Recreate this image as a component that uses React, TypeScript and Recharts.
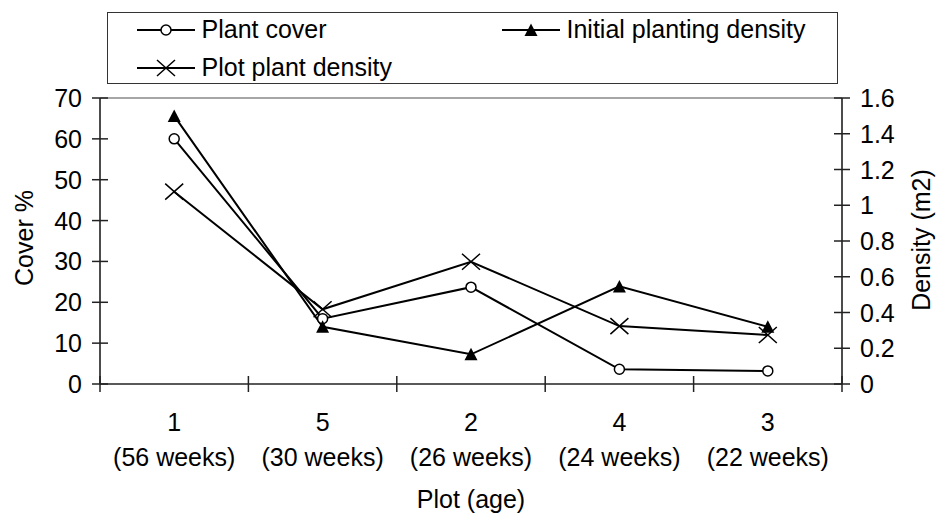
import { LineChart, Line, XAxis, YAxis, Legend, ReferenceLine } from 'recharts';

const FONT = '"Liberation Sans", Arial, sans-serif';

const plots = ['1', '5', '2', '4', '3'];
const ages = ['(56 weeks)', '(30 weeks)', '(26 weeks)', '(24 weeks)', '(22 weeks)'];
const plantCover = [60, 16, 23.7, 3.6, 3.2];
const initialDensity = [1.5, 0.32, 0.166, 0.546, 0.32];
const plotDensity = [1.076, 0.418, 0.684, 0.324, 0.274];
const coverTicks = [0, 10, 20, 30, 40, 50, 60, 70];
const densityTicks = [0, 0.2, 0.4, 0.6, 0.8, 1, 1.2, 1.4, 1.6];

const data = plots.map((p, i) => ({
  plot: p,
  cover: plantCover[i],
  initial: initialDensity[i],
  plotDensity: plotDensity[i],
}));

// half a category band, the x axis tick marks sit between the points
const HALF = 74.2;

const CircleDot = (props: any) => (
  <circle key={props.index} cx={props.cx} cy={props.cy} r={5} fill="#fff" stroke="#000" strokeWidth={1.5} />
);
const TriangleDot = (props: any) => {
  const { cx, cy } = props;
  return <path key={props.index} d={`M${cx},${cy - 6.5} L${cx + 6.5},${cy + 6} L${cx - 6.5},${cy + 6} Z`} fill="#000" />;
};
const CrossDot = (props: any) => {
  const { cx, cy } = props;
  return (
    <path
      key={props.index}
      d={`M${cx - 9},${cy - 8} L${cx + 9},${cy + 8} M${cx - 9},${cy + 8} L${cx + 9},${cy - 8}`}
      stroke="#000"
      strokeWidth={1.5}
      fill="none"
    />
  );
};

const LeftTick = ({ x, y, payload }: any) => (
  <g>
    <line x1={x - 8} x2={x + 8} y1={y} y2={y} stroke="#222" strokeWidth={1.5} />
    <text x={x - 18} y={y} dy="0.36em" textAnchor="end" fontSize={25} fill="#000">
      {payload.value}
    </text>
  </g>
);

const RightTick = ({ x, y, payload }: any) => (
  <g>
    <line x1={x - 8} x2={x + 8} y1={y} y2={y} stroke="#222" strokeWidth={1.5} />
    <text x={x + 18} y={y} dy="0.36em" textAnchor="start" fontSize={25} fill="#000">
      {payload.value}
    </text>
  </g>
);

const XTick = ({ x, y, index, payload }: any) => (
  <g>
    <line x1={x - HALF} x2={x - HALF} y1={y - 8} y2={y + 8} stroke="#222" strokeWidth={1.5} />
    {index === plots.length - 1 && (
      <line x1={x + HALF} x2={x + HALF} y1={y - 8} y2={y + 8} stroke="#222" strokeWidth={1.5} />
    )}
    <text textAnchor="middle" fontSize={25} fill="#000">
      <tspan x={x} y={y + 47}>{payload.value}</tspan>
      <tspan x={x} y={y + 82}>{ages[index]}</tspan>
    </text>
  </g>
);

const legendItems = [
  { name: 'Plant cover', Dot: CircleDot, left: 30, top: 18 },
  { name: 'Initial planting density', Dot: TriangleDot, left: 395, top: 18 },
  { name: 'Plot plant density', Dot: CrossDot, left: 30, top: 56 },
];

const LegendBox = () => (
  <div
    style={{
      position: 'relative',
      width: 731,
      height: 72,
      border: '1.5px solid #333',
      boxSizing: 'border-box',
      background: '#fff',
      fontFamily: FONT,
      fontSize: 25,
      color: '#000',
    }}
  >
    {legendItems.map(({ name, Dot, left, top }) => (
      <div
        key={name}
        style={{ position: 'absolute', left: left - 1.5, top: top - 15 - 1.5, height: 30, display: 'flex', alignItems: 'center', whiteSpace: 'nowrap' }}
      >
        <svg width={58} height={30}>
          <line x1={0} x2={58} y1={15} y2={15} stroke="#000" strokeWidth={2} />
          <Dot cx={29} cy={15} index={0} />
        </svg>
        <span style={{ marginLeft: 7, lineHeight: 1 }}>{name}</span>
      </div>
    ))}
  </div>
);

export default function App() {
  return (
    <div style={{ position: 'absolute', left: 0, top: 0, background: '#fff' }}>
      <LineChart
        width={940}
        height={514}
        data={data}
        margin={{ top: 98, right: 0, bottom: 0, left: 0 }}
        style={{ fontFamily: FONT }}
      >
        <XAxis
          dataKey="plot"
          height={130}
          padding={{ left: HALF, right: HALF }}
          interval={0}
          tickSize={0}
          tickMargin={0}
          tick={XTick}
          stroke="#222"
          strokeWidth={1.5}
          label={{
            content: ({ viewBox }: any) => (
              <text x={viewBox.x + viewBox.width / 2} y={viewBox.y + 124} textAnchor="middle" fontSize={25} fill="#000">
                Plot (age)
              </text>
            ),
          }}
        />
        <YAxis
          yAxisId="left"
          width={100}
          domain={[0, 70]}
          ticks={coverTicks}
          interval={0}
          tickSize={0}
          tickMargin={0}
          tick={LeftTick}
          stroke="#111"
          strokeWidth={1.5}
          label={{
            content: ({ viewBox }: any) => {
              const cx = viewBox.x + 33;
              const cy = viewBox.y + viewBox.height / 2 - 3;
              return (
                <text x={cx} y={cy} transform={`rotate(-90, ${cx}, ${cy})`} textAnchor="middle" fontSize={25} fill="#000">
                  Cover %
                </text>
              );
            },
          }}
        />
        <YAxis
          yAxisId="right"
          orientation="right"
          width={98}
          domain={[0, 1.6]}
          ticks={densityTicks}
          interval={0}
          tickSize={0}
          tickMargin={0}
          tick={RightTick}
          stroke="#111"
          strokeWidth={1.5}
          label={{
            content: ({ viewBox }: any) => {
              const cx = viewBox.x + 88;
              const cy = viewBox.y + viewBox.height / 2 - 1;
              return (
                <text x={cx} y={cy} transform={`rotate(-90, ${cx}, ${cy})`} textAnchor="middle" fontSize={25} fill="#000">
                  Density (m2)
                </text>
              );
            },
          }}
        />
        <ReferenceLine yAxisId="left" y={70} stroke="#888" strokeWidth={1.5} />
        <Legend
          layout="vertical"
          align="center"
          verticalAlign="middle"
          content={LegendBox}
          wrapperStyle={{ top: 12, left: 107, width: 731, height: 72 }}
        />
        <Line
          yAxisId="left"
          dataKey="cover"
          stroke="#000"
          strokeWidth={2}
          dot={CircleDot}
          isAnimationActive={false}
        />
        <Line
          yAxisId="right"
          dataKey="initial"
          stroke="#000"
          strokeWidth={2}
          dot={TriangleDot}
          isAnimationActive={false}
        />
        <Line
          yAxisId="right"
          dataKey="plotDensity"
          stroke="#000"
          strokeWidth={2}
          dot={CrossDot}
          isAnimationActive={false}
        />
      </LineChart>
    </div>
  );
}
